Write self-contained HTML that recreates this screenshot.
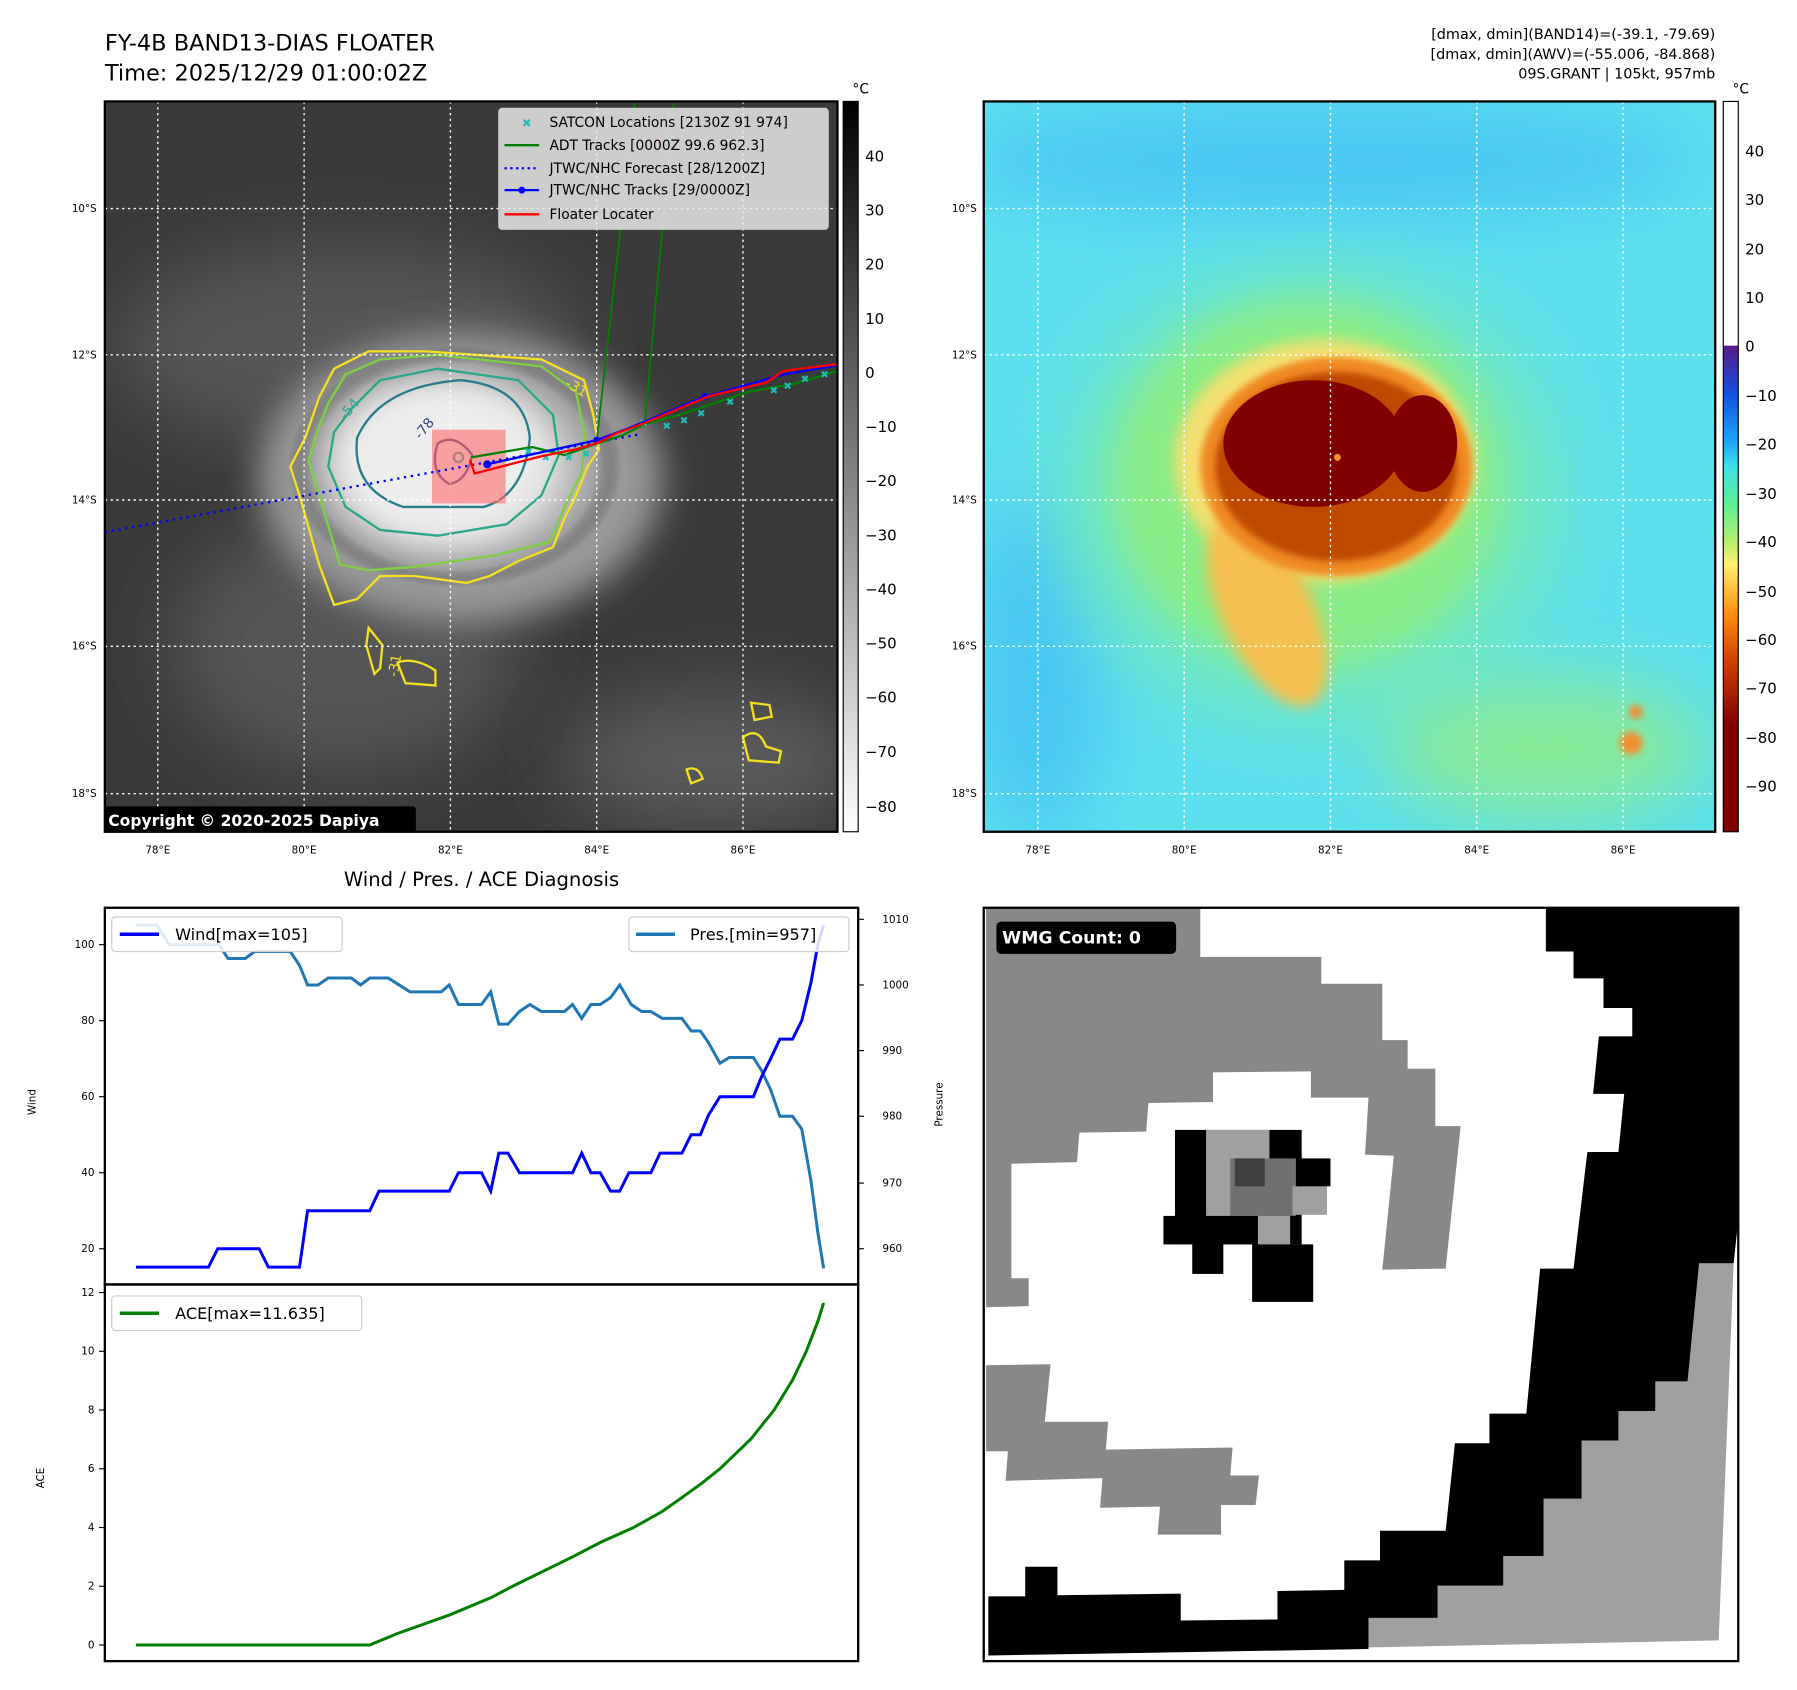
<!DOCTYPE html>
<html><head><meta charset="utf-8"><style>
html,body{margin:0;padding:0;background:#fff}
svg{display:block}
text{font-family:"DejaVu Sans","Liberation Sans",sans-serif}
</style></head><body>
<svg width="1797" height="1690" viewBox="0 0 1560 1467" xmlns="http://www.w3.org/2000/svg">
<defs>
<filter id="b3" x="-50%" y="-50%" width="200%" height="200%"><feGaussianBlur stdDeviation="3"/></filter>
<filter id="b6" x="-50%" y="-50%" width="200%" height="200%"><feGaussianBlur stdDeviation="6"/></filter>
<filter id="b15" x="-50%" y="-50%" width="200%" height="200%"><feGaussianBlur stdDeviation="15"/></filter>
<filter id="b30" x="-50%" y="-50%" width="200%" height="200%"><feGaussianBlur stdDeviation="30"/></filter>
<clipPath id="cl"><rect x="91" y="88" width="636" height="634"/></clipPath>
<clipPath id="cr"><rect x="854" y="88" width="635" height="634"/></clipPath>
<linearGradient id="cbg" x1="0" y1="0" x2="0" y2="1"><stop offset="0" stop-color="#000"/><stop offset="1" stop-color="#fff"/></linearGradient>
<linearGradient id="cbj" x1="0" y1="300" x2="0" y2="722" gradientUnits="userSpaceOnUse">
<stop offset="0" stop-color="#5a1a8a"/><stop offset="0.1" stop-color="#1050e0"/><stop offset="0.2" stop-color="#1ea8f8"/><stop offset="0.25" stop-color="#40e0e8"/><stop offset="0.33" stop-color="#60f090"/><stop offset="0.4" stop-color="#b0f070"/><stop offset="0.45" stop-color="#fff070"/><stop offset="0.55" stop-color="#ff9010"/><stop offset="0.65" stop-color="#d04000"/><stop offset="0.78" stop-color="#800000"/><stop offset="1" stop-color="#800000"/></linearGradient>
<radialGradient id="gw"><stop offset="0" stop-color="#f4f4f4"/><stop offset="0.55" stop-color="#d8d8d8"/><stop offset="0.85" stop-color="#a0a0a0"/><stop offset="1" stop-color="#3a3a3a" stop-opacity="0"/></radialGradient>
</defs>

<text x="91" y="44" font-size="19.5">FY-4B BAND13-DIAS FLOATER</text>
<text x="91" y="70" font-size="19.5">Time: 2025/12/29 01:00:02Z</text>
<text x="1489" y="34" font-size="12.5" text-anchor="end">[dmax, dmin](BAND14)=(-39.1, -79.69)</text>
<text x="1489" y="51" font-size="12.5" text-anchor="end">[dmax, dmin](AWV)=(-55.006, -84.868)</text>
<text x="1489" y="68" font-size="12.5" text-anchor="end">09S.GRANT | 105kt, 957mb</text>

<!-- LEFT MAP -->
<g clip-path="url(#cl)">
<rect x="91" y="88" width="636" height="634" fill="#3a3a3a"/>
<ellipse cx="300" cy="300" rx="200" ry="90" fill="#555" filter="url(#b30)"/>
<ellipse cx="300" cy="560" rx="150" ry="110" fill="#555" filter="url(#b30)"/>
<ellipse cx="620" cy="660" rx="130" ry="60" fill="#5a5a5a" filter="url(#b30)"/>
<ellipse cx="400" cy="415" rx="175" ry="125" fill="#999" filter="url(#b15)"/>
<ellipse cx="395" cy="405" rx="145" ry="105" fill="url(#gw)"/>
<ellipse cx="380" cy="400" rx="90" ry="65" fill="#eee" filter="url(#b15)"/>
<g fill="none" stroke-width="2">
<path d="M277,345 L290,320 L320,305 L370,305 L470,312 L507,330 L515,360 L520,390 L510,405 L500,430 L490,450 L480,475 L450,487 L425,500 L405,506 L360,500 L330,500 L310,520 L290,525 L277,490 L260,430 L252,405 L265,380 Z" stroke="#f5e020"/>
<path d="M285,350 L300,325 L330,312 L380,308 L470,318 L500,340 L508,380 L505,410 L490,440 L478,470 L430,482 L360,492 L320,495 L295,490 L280,440 L268,400 L275,375 Z" stroke="#7ed040"/>
<path d="M305,355 L330,330 L380,320 L450,330 L480,360 L485,395 L470,430 L440,455 L380,465 L330,460 L300,440 L285,405 L290,375 Z" stroke="#27a888"/>
<path d="M310,380 Q330,335 400,330 Q455,335 460,380 Q455,430 420,440 L350,440 Q305,425 310,380 Z" stroke="#2a7c8c"/>
<path d="M380,385 Q395,375 410,395 Q405,418 390,420 Q372,410 380,385 Z" stroke="#35457f"/>
<circle cx="398" cy="397" r="4" stroke="#27a888"/>
<path d="M320,545 L332,560 L330,580 L325,585 L318,560 Z" stroke="#f5e020"/>
<path d="M345,575 Q360,570 378,582 L378,595 L352,593 Z" stroke="#f5e020"/>
<path d="M652,610 L668,612 L670,622 L655,625 Z" stroke="#f5e020"/>
<path d="M645,640 Q658,630 665,648 L678,652 L676,662 L650,660 Z" stroke="#f5e020"/>
<path d="M596,668 Q606,664 610,676 L600,680 Z" stroke="#f5e020"/>
</g>
<text x="365" y="382" font-size="12" fill="#35457f" transform="rotate(-50 365 382)">-78</text>
<text x="300" y="365" font-size="12" fill="#27a888" transform="rotate(-50 300 365)">-54</text>
<text x="490" y="335" font-size="12" fill="#f5e020" transform="rotate(30 490 335)">-31</text>
<text x="345" y="588" font-size="12" fill="#f5e020" transform="rotate(-80 345 588)">-31</text>
<g stroke="#fff" stroke-width="1.2" stroke-dasharray="2,3">
<line x1="137" y1="88" x2="137" y2="722"/><line x1="264" y1="88" x2="264" y2="722"/><line x1="391" y1="88" x2="391" y2="722"/><line x1="518" y1="88" x2="518" y2="722"/><line x1="645" y1="88" x2="645" y2="722"/>
<line x1="91" y1="181" x2="727" y2="181"/><line x1="91" y1="308" x2="727" y2="308"/><line x1="91" y1="434" x2="727" y2="434"/><line x1="91" y1="561" x2="727" y2="561"/><line x1="91" y1="689" x2="727" y2="689"/>
</g>
<rect x="375" y="373" width="64" height="64" fill="#ff6a6a" fill-opacity="0.6"/>
<polyline points="91,462 555,377" stroke="#00f" stroke-width="2" stroke-dasharray="2,4" fill="none"/>
<g stroke="#008000" stroke-width="1.5" fill="none">
<line x1="518" y1="383" x2="551" y2="88"/><line x1="560" y1="365" x2="585" y2="88"/>
<polyline points="409,397 462,388 490,395 518,385 540,378 560,368 590,360 620,350 650,340 690,333 727,322" stroke-width="2"/>
</g>
<g fill="#22bbbb" font-size="9">
<text x="455" y="395">✖</text><text x="470" y="400">✖</text><text x="490" y="400">✖</text><text x="505" y="397">✖</text><text x="555" y="370">✖</text><text x="575" y="373">✖</text><text x="590" y="368">✖</text><text x="605" y="362">✖</text><text x="630" y="352">✖</text><text x="668" y="342">✖</text><text x="680" y="338">✖</text><text x="695" y="332">✖</text><text x="712" y="328">✖</text>
</g>
<polyline points="423,403 518,382 545,372 610,345 680,325 727,317" stroke="#00f" stroke-width="2" fill="none"/>
<circle cx="423" cy="403" r="3.5" fill="#00f"/><circle cx="518" cy="382" r="3" fill="#00f"/><circle cx="612" cy="344" r="3" fill="#00f"/>
<polyline points="408,399 412,411 470,396 500,390 520,384 533,377 560,367 615,344 665,332 680,322 727,316" stroke="#f00" stroke-width="2" fill="none"/>
<rect x="433" y="94" width="286" height="105" rx="3" fill="#e8e8e8" fill-opacity="0.85" stroke="#ccc"/>
<g font-size="12" fill="#000">
<text x="453" y="110" fill="#22bbbb" font-size="10">✖</text><text x="477" y="110">SATCON Locations [2130Z 91 974]</text>
<line x1="438" y1="126" x2="468" y2="126" stroke="#008000" stroke-width="2"/><text x="477" y="130">ADT Tracks [0000Z 99.6 962.3]</text>
<line x1="438" y1="146" x2="468" y2="146" stroke="#00f" stroke-width="2" stroke-dasharray="2,3"/><text x="477" y="150">JTWC/NHC Forecast [28/1200Z]</text>
<line x1="438" y1="165" x2="468" y2="165" stroke="#00f" stroke-width="2"/><circle cx="453" cy="165" r="3" fill="#00f"/><text x="477" y="169">JTWC/NHC Tracks [29/0000Z]</text>
<line x1="438" y1="186" x2="468" y2="186" stroke="#f00" stroke-width="2"/><text x="477" y="190">Floater Locater</text>
</g>
<rect x="89" y="700" width="272" height="23" rx="3" fill="#000"/>
<text x="94" y="717" font-size="13.5" font-weight="bold" fill="#fff">Copyright © 2020-2025 Dapiya</text>
</g>
<rect x="91" y="88" width="636" height="634" fill="none" stroke="#000" stroke-width="2"/>
<rect x="732" y="88" width="13" height="634" fill="url(#cbg)" stroke="#000" stroke-width="1"/>
<text x="740" y="81" font-size="12">°C</text>
<g font-size="13" fill="#000">
<text x="751" y="140">40</text><text x="751" y="187">30</text><text x="751" y="234">20</text><text x="751" y="281">10</text><text x="751" y="328">0</text><text x="751" y="375">−10</text><text x="751" y="422">−20</text><text x="751" y="469">−30</text><text x="751" y="516">−40</text><text x="751" y="563">−50</text><text x="751" y="610">−60</text><text x="751" y="657">−70</text><text x="751" y="705">−80</text>
</g>
<g font-size="9" text-anchor="end"><text x="84" y="184">10°S</text><text x="84" y="311">12°S</text><text x="84" y="437">14°S</text><text x="84" y="564">16°S</text><text x="84" y="692">18°S</text></g>
<g font-size="9" text-anchor="middle"><text x="137" y="741">78°E</text><text x="264" y="741">80°E</text><text x="391" y="741">82°E</text><text x="518" y="741">84°E</text><text x="645" y="741">86°E</text></g>

<!-- RIGHT MAP -->
<g clip-path="url(#cr)">
<rect x="854" y="88" width="635" height="634" fill="#5ce0ee"/>
<ellipse cx="1150" cy="140" rx="320" ry="50" fill="#48c8f2" filter="url(#b30)"/>
<ellipse cx="900" cy="580" rx="60" ry="150" fill="#48c8f2" filter="url(#b30)"/>
<ellipse cx="1140" cy="430" rx="220" ry="200" fill="#70e8c0" filter="url(#b30)"/>
<ellipse cx="1135" cy="420" rx="170" ry="160" fill="#8aec88" filter="url(#b15)"/>
<ellipse cx="1340" cy="650" rx="140" ry="60" fill="#88ea98" filter="url(#b30)"/>
<ellipse cx="1150" cy="400" rx="130" ry="105" fill="#f4e070" filter="url(#b6)"/>
<ellipse cx="1100" cy="530" rx="40" ry="90" fill="#f4c050" filter="url(#b6)" transform="rotate(-25 1100 530)"/>
<ellipse cx="1160" cy="405" rx="118" ry="95" fill="#f08a20" filter="url(#b3)"/>
<ellipse cx="1160" cy="405" rx="105" ry="82" fill="#c04800" filter="url(#b3)"/>
<ellipse cx="1140" cy="385" rx="78" ry="55" fill="#800000"/>
<ellipse cx="1235" cy="385" rx="30" ry="42" fill="#800000"/>
<circle cx="1161" cy="397" r="3" fill="#f09030"/>
<circle cx="1416" cy="645" r="10" fill="#f09030" filter="url(#b3)"/>
<circle cx="1420" cy="618" r="6" fill="#f09030" filter="url(#b3)"/>
<g stroke="#fff" stroke-width="1.2" stroke-dasharray="2,3">
<line x1="901" y1="88" x2="901" y2="722"/><line x1="1028" y1="88" x2="1028" y2="722"/><line x1="1155" y1="88" x2="1155" y2="722"/><line x1="1282" y1="88" x2="1282" y2="722"/><line x1="1409" y1="88" x2="1409" y2="722"/>
<line x1="854" y1="181" x2="1489" y2="181"/><line x1="854" y1="308" x2="1489" y2="308"/><line x1="854" y1="434" x2="1489" y2="434"/><line x1="854" y1="561" x2="1489" y2="561"/><line x1="854" y1="689" x2="1489" y2="689"/>
</g>
</g>
<rect x="854" y="88" width="635" height="634" fill="none" stroke="#000" stroke-width="2"/>
<rect x="1496" y="88" width="13" height="213" fill="#fff"/>
<rect x="1496" y="300" width="13" height="422" fill="url(#cbj)"/>
<rect x="1496" y="88" width="13" height="634" fill="none" stroke="#000" stroke-width="1"/>
<text x="1504" y="81" font-size="12">°C</text>
<g font-size="13"><text x="1515" y="136">40</text><text x="1515" y="178">30</text><text x="1515" y="221">20</text><text x="1515" y="263">10</text><text x="1515" y="305">0</text><text x="1515" y="348">−10</text><text x="1515" y="390">−20</text><text x="1515" y="433">−30</text><text x="1515" y="475">−40</text><text x="1515" y="518">−50</text><text x="1515" y="560">−60</text><text x="1515" y="602">−70</text><text x="1515" y="645">−80</text><text x="1515" y="687">−90</text></g>
<g font-size="9" text-anchor="end"><text x="848" y="184">10°S</text><text x="848" y="311">12°S</text><text x="848" y="437">14°S</text><text x="848" y="564">16°S</text><text x="848" y="692">18°S</text></g>
<g font-size="9" text-anchor="middle"><text x="901" y="741">78°E</text><text x="1028" y="741">80°E</text><text x="1155" y="741">82°E</text><text x="1282" y="741">84°E</text><text x="1409" y="741">86°E</text></g>

<!-- BOTTOM LEFT -->
<text x="418" y="769" font-size="17" text-anchor="middle">Wind / Pres. / ACE Diagnosis</text>
<rect x="91" y="788" width="654" height="327" fill="none" stroke="#000" stroke-width="2"/>
<rect x="91" y="1115" width="654" height="327" fill="none" stroke="#000" stroke-width="2"/>
<polyline fill="none" stroke="#1f77b4" stroke-width="2.6" points="118,803 136,803 147,820 190,820 198,832 213,832 221,826 252,826 260,838 267,855 276,855 285,849 305,849 313,855 321,849 337,849 356,861 383,861 390,855 398,872 418,872 426,861 433,889 441,889 451,878 460,872 470,878 490,878 497,872 505,884 513,872 521,872 530,866 538,855 548,872 557,878 565,878 575,884 592,884 600,895 608,895 615,905 625,923 633,918 654,918 661,929 669,946 677,969 688,969 696,980 704,1025 710,1070 715,1101"/>
<polyline fill="none" stroke="#0000ff" stroke-width="2.6" points="118,1100 181,1100 189,1084 225,1084 233,1100 260,1100 267,1051 321,1051 329,1034 390,1034 398,1018 418,1018 426,1034 433,1001 441,1001 451,1018 497,1018 505,1001 513,1018 521,1018 530,1034 538,1034 546,1018 565,1018 573,1001 592,1001 600,985 608,985 615,968 625,952 654,952 661,935 669,919 677,902 688,902 696,886 704,853 710,820 715,803"/>
<polyline fill="none" stroke="#008000" stroke-width="2.6" points="118,1428 321,1428 345,1418 390,1402 426,1387 445,1377 498,1351 521,1339 550,1326 575,1312 592,1300 610,1287 625,1275 652,1249 672,1224 688,1198 700,1173 710,1147 715,1131"/>
<g stroke="#000" stroke-width="1"><line x1="86" y1="820" x2="91" y2="820"/><line x1="86" y1="886" x2="91" y2="886"/><line x1="86" y1="952" x2="91" y2="952"/><line x1="86" y1="1018" x2="91" y2="1018"/><line x1="86" y1="1084" x2="91" y2="1084"/>
<line x1="745" y1="798" x2="750" y2="798"/><line x1="745" y1="855" x2="750" y2="855"/><line x1="745" y1="912" x2="750" y2="912"/><line x1="745" y1="969" x2="750" y2="969"/><line x1="745" y1="1027" x2="750" y2="1027"/><line x1="745" y1="1084" x2="750" y2="1084"/>
<line x1="86" y1="1122" x2="91" y2="1122"/><line x1="86" y1="1173" x2="91" y2="1173"/><line x1="86" y1="1224" x2="91" y2="1224"/><line x1="86" y1="1275" x2="91" y2="1275"/><line x1="86" y1="1326" x2="91" y2="1326"/><line x1="86" y1="1377" x2="91" y2="1377"/><line x1="86" y1="1428" x2="91" y2="1428"/></g>
<g font-size="9" text-anchor="end"><text x="82" y="823">100</text><text x="82" y="889">80</text><text x="82" y="955">60</text><text x="82" y="1021">40</text><text x="82" y="1087">20</text>
<text x="82" y="1125">12</text><text x="82" y="1176">10</text><text x="82" y="1227">8</text><text x="82" y="1278">6</text><text x="82" y="1329">4</text><text x="82" y="1380">2</text><text x="82" y="1431">0</text></g>
<g font-size="9"><text x="766" y="801">1010</text><text x="766" y="858">1000</text><text x="766" y="915">990</text><text x="766" y="972">980</text><text x="766" y="1030">970</text><text x="766" y="1087">960</text></g>
<text x="0" y="0" font-size="9" transform="translate(31,968) rotate(-90)">Wind</text>
<text x="0" y="0" font-size="9" transform="translate(818,978) rotate(-90)">Pressure</text>
<text x="0" y="0" font-size="9" transform="translate(38,1292) rotate(-90)">ACE</text>
<rect x="97" y="796" width="200" height="30" rx="3" fill="#fff" fill-opacity="0.85" stroke="#ccc"/>
<line x1="104" y1="811" x2="138" y2="811" stroke="#00f" stroke-width="3"/><text x="152" y="816" font-size="14">Wind[max=105]</text>
<rect x="546" y="796" width="191" height="30" rx="3" fill="#fff" fill-opacity="0.85" stroke="#ccc"/>
<line x1="552" y1="811" x2="586" y2="811" stroke="#1f77b4" stroke-width="3"/><text x="599" y="816" font-size="14">Pres.[min=957]</text>
<rect x="97" y="1125" width="217" height="30" rx="3" fill="#fff" fill-opacity="0.85" stroke="#ccc"/>
<line x1="104" y1="1140" x2="138" y2="1140" stroke="#008000" stroke-width="3"/><text x="152" y="1145" font-size="14">ACE[max=11.635]</text>

<!-- BOTTOM RIGHT WMG -->
<rect x="854" y="788" width="655" height="654" fill="#fff"/>
<g transform="translate(0,742) scale(1,0.4665)">
<polygon fill="#888" points="856,100 1042,100 1042,190 1147,190 1147,240 1200,240 1200,345 1222,345 1222,398 1246,398 1246,505 1268,505 1255,770 1200,772 1210,560 1185,558 1188,452 1138,452 1138,403 1053,405 1053,460 997,462 995,515 937,517 935,572 878,575 878,788 893,788 893,840 856,842"/>
<polygon fill="#888" points="856,950 912,948 907,1055 962,1055 960,1107 1070,1103 1068,1155 1093,1155 1090,1210 1060,1210 1060,1265 1005,1265 1007,1213 955,1215 957,1160 873,1165 875,1110 856,1110"/>
<polygon fill="#a0a0a0" points="1475,760 1505,760 1492,1462 1188,1475 1188,1420 1248,1420 1248,1360 1305,1360 1305,1305 1340,1305 1340,1198 1373,1198 1373,1090 1405,1090 1405,1035 1437,1035 1437,980 1465,980"/>
<polygon fill="#a0a0a0" points="1505,100 1509,100 1509,228 1505,228"/>
<polygon fill="#000" points="1342,100 1509,100 1509,680 1505,760 1475,760 1465,980 1437,980 1437,1035 1405,1035 1405,1090 1373,1090 1373,1198 1340,1198 1340,1305 1305,1305 1305,1360 1248,1360 1248,1420 1188,1420 1188,1478 858,1490 858,1380 890,1380 890,1325 918,1325 918,1378 1025,1375 1025,1425 1109,1423 1109,1370 1167,1368 1167,1313 1198,1313 1198,1258 1255,1258 1263,1095 1293,1095 1293,1040 1325,1040 1337,770 1366,770 1378,553 1405,553 1410,445 1383,445 1388,338 1417,338 1417,285 1392,285 1392,230 1366,230 1366,180 1342,180"/>
<rect x="1020" y="512" width="110" height="213" fill="#000"/>
<rect x="1010" y="672" width="82" height="53" fill="#000"/>
<rect x="1035" y="725" width="27" height="55" fill="#000"/>
<rect x="1087" y="725" width="53" height="107" fill="#000"/>
<rect x="1047" y="512" width="55" height="160" fill="#a0a0a0"/>
<rect x="1068" y="565" width="57" height="107" fill="#707070"/>
<rect x="1072" y="565" width="26" height="52" fill="#404040"/>
<rect x="1122" y="617" width="30" height="53" fill="#a0a0a0"/>
<rect x="1128" y="565" width="27" height="52" fill="#000"/>
<rect x="1092" y="672" width="28" height="53" fill="#a0a0a0"/>
</g>
<rect x="854" y="788" width="655" height="654" fill="none" stroke="#000" stroke-width="2"/>
<rect x="865" y="800" width="156" height="28" rx="4" fill="#000"/>
<text x="870" y="819" font-size="15" font-weight="bold" fill="#fff">WMG Count: 0</text>
</svg>
</body></html>
